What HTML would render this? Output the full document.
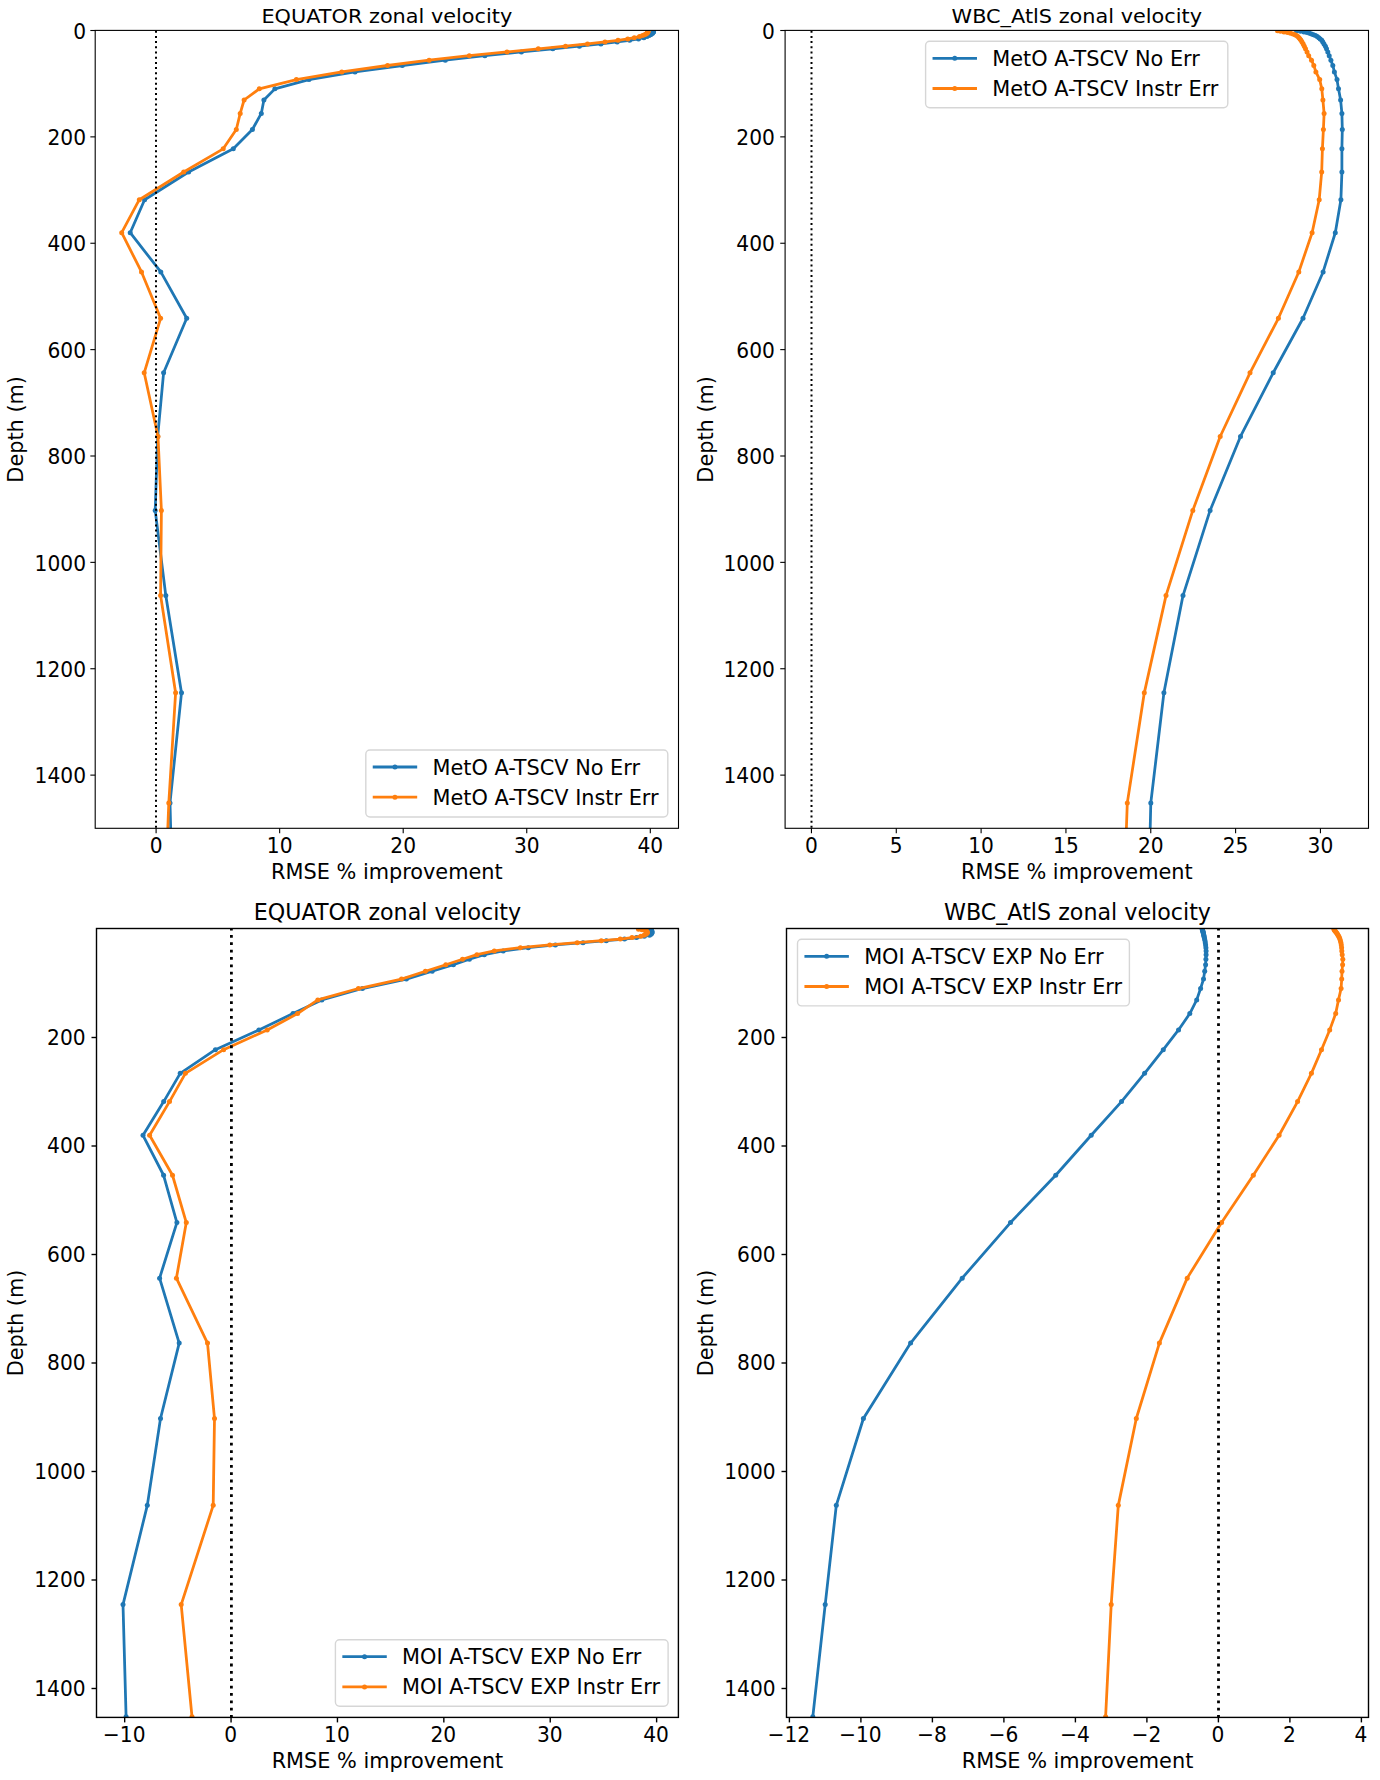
<!DOCTYPE html>
<html><head><meta charset="utf-8"><title>RMSE % improvement: zonal velocity</title>
<style>
html,body{margin:0;padding:0;background:#fff;}
svg{display:block;}
text{font-family:"DejaVu Sans","Liberation Sans",sans-serif;fill:#000;}
.tk{font-size:20.20px;}
.lb{font-size:20.83px;}
</style></head><body>
<svg width="1380" height="1780" viewBox="0 0 1380 1780">
<rect x="0" y="0" width="1380" height="1780" fill="#fff"/>
<defs>
<clipPath id="c0"><rect x="95.20" y="30.40" width="583.30" height="797.90"/></clipPath>
<clipPath id="c1"><rect x="785.10" y="30.40" width="583.40" height="797.90"/></clipPath>
<clipPath id="c2"><rect x="96.50" y="928.50" width="581.90" height="788.90"/></clipPath>
<clipPath id="c3"><rect x="786.50" y="928.50" width="582.00" height="788.90"/></clipPath>
</defs>
<g>
<g clip-path="url(#c0)">
<polyline points="653.50,30.76 653.50,31.32 653.50,31.91 653.00,32.53 652.50,33.20 651.50,33.93 650.50,34.72 649.00,35.59 647.00,36.57 643.90,37.66 638.50,38.91 629.60,40.34 617.20,41.99 600.90,43.91 579.40,46.16 552.80,48.81 521.40,51.96 484.90,55.70 445.30,60.16 402.30,65.50 355.00,71.91 309.00,79.61 274.90,88.86 263.90,100.00 261.30,113.39 252.40,129.49 233.30,148.83 188.60,172.00 144.60,199.70 130.20,232.72 160.80,271.94 186.70,318.29 163.60,372.79 157.70,436.49 155.20,510.43 165.80,595.58 181.50,692.83 170.00,802.91 173.30,926.32" fill="none" stroke="#1f77b4" stroke-width="2.78" stroke-linejoin="round" stroke-linecap="square"/>
<circle cx="653.50" cy="30.76" r="2.50" fill="#1f77b4"/><circle cx="653.50" cy="31.32" r="2.50" fill="#1f77b4"/><circle cx="653.50" cy="31.91" r="2.50" fill="#1f77b4"/><circle cx="653.00" cy="32.53" r="2.50" fill="#1f77b4"/><circle cx="652.50" cy="33.20" r="2.50" fill="#1f77b4"/><circle cx="651.50" cy="33.93" r="2.50" fill="#1f77b4"/><circle cx="650.50" cy="34.72" r="2.50" fill="#1f77b4"/><circle cx="649.00" cy="35.59" r="2.50" fill="#1f77b4"/><circle cx="647.00" cy="36.57" r="2.50" fill="#1f77b4"/><circle cx="643.90" cy="37.66" r="2.50" fill="#1f77b4"/><circle cx="638.50" cy="38.91" r="2.50" fill="#1f77b4"/><circle cx="629.60" cy="40.34" r="2.50" fill="#1f77b4"/><circle cx="617.20" cy="41.99" r="2.50" fill="#1f77b4"/><circle cx="600.90" cy="43.91" r="2.50" fill="#1f77b4"/><circle cx="579.40" cy="46.16" r="2.50" fill="#1f77b4"/><circle cx="552.80" cy="48.81" r="2.50" fill="#1f77b4"/><circle cx="521.40" cy="51.96" r="2.50" fill="#1f77b4"/><circle cx="484.90" cy="55.70" r="2.50" fill="#1f77b4"/><circle cx="445.30" cy="60.16" r="2.50" fill="#1f77b4"/><circle cx="402.30" cy="65.50" r="2.50" fill="#1f77b4"/><circle cx="355.00" cy="71.91" r="2.50" fill="#1f77b4"/><circle cx="309.00" cy="79.61" r="2.50" fill="#1f77b4"/><circle cx="274.90" cy="88.86" r="2.50" fill="#1f77b4"/><circle cx="263.90" cy="100.00" r="2.50" fill="#1f77b4"/><circle cx="261.30" cy="113.39" r="2.50" fill="#1f77b4"/><circle cx="252.40" cy="129.49" r="2.50" fill="#1f77b4"/><circle cx="233.30" cy="148.83" r="2.50" fill="#1f77b4"/><circle cx="188.60" cy="172.00" r="2.50" fill="#1f77b4"/><circle cx="144.60" cy="199.70" r="2.50" fill="#1f77b4"/><circle cx="130.20" cy="232.72" r="2.50" fill="#1f77b4"/><circle cx="160.80" cy="271.94" r="2.50" fill="#1f77b4"/><circle cx="186.70" cy="318.29" r="2.50" fill="#1f77b4"/><circle cx="163.60" cy="372.79" r="2.50" fill="#1f77b4"/><circle cx="157.70" cy="436.49" r="2.50" fill="#1f77b4"/><circle cx="155.20" cy="510.43" r="2.50" fill="#1f77b4"/><circle cx="165.80" cy="595.58" r="2.50" fill="#1f77b4"/><circle cx="181.50" cy="692.83" r="2.50" fill="#1f77b4"/><circle cx="170.00" cy="802.91" r="2.50" fill="#1f77b4"/><circle cx="173.30" cy="926.32" r="2.50" fill="#1f77b4"/>
<polyline points="648.00,30.76 648.00,31.32 648.00,31.91 647.50,32.53 647.00,33.20 646.00,33.93 644.50,34.72 642.50,35.59 639.50,36.57 634.30,37.66 627.80,38.91 618.00,40.34 605.00,41.99 587.50,43.91 565.50,46.16 538.30,48.81 507.00,51.96 469.30,55.70 429.10,60.16 387.50,65.50 341.80,71.91 296.40,79.61 259.30,88.86 244.10,100.00 240.20,113.39 236.30,129.49 223.20,148.83 183.70,172.00 139.30,199.70 121.70,232.72 141.50,271.94 160.60,318.29 144.20,372.79 158.00,436.49 161.40,510.43 160.60,595.58 175.60,692.83 168.80,802.91 164.00,926.32" fill="none" stroke="#ff7f0e" stroke-width="2.78" stroke-linejoin="round" stroke-linecap="square"/>
<circle cx="648.00" cy="30.76" r="2.50" fill="#ff7f0e"/><circle cx="648.00" cy="31.32" r="2.50" fill="#ff7f0e"/><circle cx="648.00" cy="31.91" r="2.50" fill="#ff7f0e"/><circle cx="647.50" cy="32.53" r="2.50" fill="#ff7f0e"/><circle cx="647.00" cy="33.20" r="2.50" fill="#ff7f0e"/><circle cx="646.00" cy="33.93" r="2.50" fill="#ff7f0e"/><circle cx="644.50" cy="34.72" r="2.50" fill="#ff7f0e"/><circle cx="642.50" cy="35.59" r="2.50" fill="#ff7f0e"/><circle cx="639.50" cy="36.57" r="2.50" fill="#ff7f0e"/><circle cx="634.30" cy="37.66" r="2.50" fill="#ff7f0e"/><circle cx="627.80" cy="38.91" r="2.50" fill="#ff7f0e"/><circle cx="618.00" cy="40.34" r="2.50" fill="#ff7f0e"/><circle cx="605.00" cy="41.99" r="2.50" fill="#ff7f0e"/><circle cx="587.50" cy="43.91" r="2.50" fill="#ff7f0e"/><circle cx="565.50" cy="46.16" r="2.50" fill="#ff7f0e"/><circle cx="538.30" cy="48.81" r="2.50" fill="#ff7f0e"/><circle cx="507.00" cy="51.96" r="2.50" fill="#ff7f0e"/><circle cx="469.30" cy="55.70" r="2.50" fill="#ff7f0e"/><circle cx="429.10" cy="60.16" r="2.50" fill="#ff7f0e"/><circle cx="387.50" cy="65.50" r="2.50" fill="#ff7f0e"/><circle cx="341.80" cy="71.91" r="2.50" fill="#ff7f0e"/><circle cx="296.40" cy="79.61" r="2.50" fill="#ff7f0e"/><circle cx="259.30" cy="88.86" r="2.50" fill="#ff7f0e"/><circle cx="244.10" cy="100.00" r="2.50" fill="#ff7f0e"/><circle cx="240.20" cy="113.39" r="2.50" fill="#ff7f0e"/><circle cx="236.30" cy="129.49" r="2.50" fill="#ff7f0e"/><circle cx="223.20" cy="148.83" r="2.50" fill="#ff7f0e"/><circle cx="183.70" cy="172.00" r="2.50" fill="#ff7f0e"/><circle cx="139.30" cy="199.70" r="2.50" fill="#ff7f0e"/><circle cx="121.70" cy="232.72" r="2.50" fill="#ff7f0e"/><circle cx="141.50" cy="271.94" r="2.50" fill="#ff7f0e"/><circle cx="160.60" cy="318.29" r="2.50" fill="#ff7f0e"/><circle cx="144.20" cy="372.79" r="2.50" fill="#ff7f0e"/><circle cx="158.00" cy="436.49" r="2.50" fill="#ff7f0e"/><circle cx="161.40" cy="510.43" r="2.50" fill="#ff7f0e"/><circle cx="160.60" cy="595.58" r="2.50" fill="#ff7f0e"/><circle cx="175.60" cy="692.83" r="2.50" fill="#ff7f0e"/><circle cx="168.80" cy="802.91" r="2.50" fill="#ff7f0e"/><circle cx="164.00" cy="926.32" r="2.50" fill="#ff7f0e"/>
<line x1="156.00" y1="30.70" x2="156.00" y2="833.30" stroke="#000" stroke-width="2.00" stroke-dasharray="2 3.197"/>
</g>
<rect x="95.20" y="30.40" width="583.30" height="797.90" fill="none" stroke="#000" stroke-width="1.10" stroke-linejoin="miter"/>
<line x1="156.10" y1="828.30" x2="156.10" y2="833.16" stroke="#000" stroke-width="1.10"/><text class="tk" transform="translate(156.10 852.80) scale(1 1.050)" text-anchor="middle">0</text>
<line x1="279.65" y1="828.30" x2="279.65" y2="833.16" stroke="#000" stroke-width="1.10"/><text class="tk" transform="translate(279.65 852.80) scale(1 1.050)" text-anchor="middle">10</text>
<line x1="403.20" y1="828.30" x2="403.20" y2="833.16" stroke="#000" stroke-width="1.10"/><text class="tk" transform="translate(403.20 852.80) scale(1 1.050)" text-anchor="middle">20</text>
<line x1="526.75" y1="828.30" x2="526.75" y2="833.16" stroke="#000" stroke-width="1.10"/><text class="tk" transform="translate(526.75 852.80) scale(1 1.050)" text-anchor="middle">30</text>
<line x1="650.30" y1="828.30" x2="650.30" y2="833.16" stroke="#000" stroke-width="1.10"/><text class="tk" transform="translate(650.30 852.80) scale(1 1.050)" text-anchor="middle">40</text>
<line x1="90.34" y1="30.50" x2="95.20" y2="30.50" stroke="#000" stroke-width="1.10"/><text class="tk" transform="translate(86.00 38.70) scale(1 1.050)" text-anchor="end">0</text>
<line x1="90.34" y1="136.87" x2="95.20" y2="136.87" stroke="#000" stroke-width="1.10"/><text class="tk" transform="translate(86.00 145.07) scale(1 1.050)" text-anchor="end">200</text>
<line x1="90.34" y1="243.25" x2="95.20" y2="243.25" stroke="#000" stroke-width="1.10"/><text class="tk" transform="translate(86.00 251.45) scale(1 1.050)" text-anchor="end">400</text>
<line x1="90.34" y1="349.62" x2="95.20" y2="349.62" stroke="#000" stroke-width="1.10"/><text class="tk" transform="translate(86.00 357.82) scale(1 1.050)" text-anchor="end">600</text>
<line x1="90.34" y1="456.00" x2="95.20" y2="456.00" stroke="#000" stroke-width="1.10"/><text class="tk" transform="translate(86.00 464.20) scale(1 1.050)" text-anchor="end">800</text>
<line x1="90.34" y1="562.37" x2="95.20" y2="562.37" stroke="#000" stroke-width="1.10"/><text class="tk" transform="translate(86.00 570.57) scale(1 1.050)" text-anchor="end">1000</text>
<line x1="90.34" y1="668.74" x2="95.20" y2="668.74" stroke="#000" stroke-width="1.10"/><text class="tk" transform="translate(86.00 676.94) scale(1 1.050)" text-anchor="end">1200</text>
<line x1="90.34" y1="775.12" x2="95.20" y2="775.12" stroke="#000" stroke-width="1.10"/><text class="tk" transform="translate(86.00 783.32) scale(1 1.050)" text-anchor="end">1400</text>
<text class="lb" transform="translate(386.85 22.80) scale(1 0.970)" text-anchor="middle" style="font-size:20.83px">EQUATOR zonal velocity</text>
<text class="lb" transform="translate(386.85 878.50) scale(1 1.000)" text-anchor="middle">RMSE % improvement</text>
<text class="lb" transform="translate(22.90 429.35) rotate(-90) scale(1 1.000)" text-anchor="middle">Depth (m)</text>
<rect x="365.80" y="750.00" width="302.00" height="67.00" rx="4.17" ry="4.17" fill="#fff" fill-opacity="0.8" stroke="#cccccc" stroke-opacity="0.8" stroke-width="1.39"/>
<line x1="374.13" y1="767.00" x2="415.79" y2="767.00" stroke="#1f77b4" stroke-width="2.78" stroke-linecap="square"/><circle cx="394.96" cy="767.00" r="2.50" fill="#1f77b4"/><text class="lb" transform="translate(432.45 774.70) scale(1 1.000)">MetO A-TSCV No Err</text>
<line x1="374.13" y1="797.20" x2="415.79" y2="797.20" stroke="#ff7f0e" stroke-width="2.78" stroke-linecap="square"/><circle cx="394.96" cy="797.20" r="2.50" fill="#ff7f0e"/><text class="lb" transform="translate(432.45 804.60) scale(1 1.000)">MetO A-TSCV Instr Err</text>
</g>
<g>
<g clip-path="url(#c1)">
<polyline points="1296.50,30.76 1300.50,31.32 1304.00,31.91 1307.00,32.53 1309.50,33.20 1311.50,33.93 1313.50,34.72 1315.50,35.59 1317.20,36.57 1318.80,37.66 1320.20,38.91 1321.80,40.34 1322.80,41.99 1324.00,43.91 1325.40,46.16 1326.50,48.81 1327.80,51.96 1329.20,55.70 1330.90,60.16 1332.80,65.50 1334.40,71.91 1337.00,79.61 1338.50,88.86 1340.60,100.00 1341.90,113.39 1342.30,129.49 1341.90,148.83 1341.90,172.00 1340.90,199.70 1335.30,232.72 1323.10,271.94 1303.00,318.29 1273.20,372.79 1240.50,436.49 1210.10,510.43 1183.00,595.58 1163.90,692.83 1150.80,802.91 1147.90,926.32" fill="none" stroke="#1f77b4" stroke-width="2.78" stroke-linejoin="round" stroke-linecap="square"/>
<circle cx="1296.50" cy="30.76" r="2.50" fill="#1f77b4"/><circle cx="1300.50" cy="31.32" r="2.50" fill="#1f77b4"/><circle cx="1304.00" cy="31.91" r="2.50" fill="#1f77b4"/><circle cx="1307.00" cy="32.53" r="2.50" fill="#1f77b4"/><circle cx="1309.50" cy="33.20" r="2.50" fill="#1f77b4"/><circle cx="1311.50" cy="33.93" r="2.50" fill="#1f77b4"/><circle cx="1313.50" cy="34.72" r="2.50" fill="#1f77b4"/><circle cx="1315.50" cy="35.59" r="2.50" fill="#1f77b4"/><circle cx="1317.20" cy="36.57" r="2.50" fill="#1f77b4"/><circle cx="1318.80" cy="37.66" r="2.50" fill="#1f77b4"/><circle cx="1320.20" cy="38.91" r="2.50" fill="#1f77b4"/><circle cx="1321.80" cy="40.34" r="2.50" fill="#1f77b4"/><circle cx="1322.80" cy="41.99" r="2.50" fill="#1f77b4"/><circle cx="1324.00" cy="43.91" r="2.50" fill="#1f77b4"/><circle cx="1325.40" cy="46.16" r="2.50" fill="#1f77b4"/><circle cx="1326.50" cy="48.81" r="2.50" fill="#1f77b4"/><circle cx="1327.80" cy="51.96" r="2.50" fill="#1f77b4"/><circle cx="1329.20" cy="55.70" r="2.50" fill="#1f77b4"/><circle cx="1330.90" cy="60.16" r="2.50" fill="#1f77b4"/><circle cx="1332.80" cy="65.50" r="2.50" fill="#1f77b4"/><circle cx="1334.40" cy="71.91" r="2.50" fill="#1f77b4"/><circle cx="1337.00" cy="79.61" r="2.50" fill="#1f77b4"/><circle cx="1338.50" cy="88.86" r="2.50" fill="#1f77b4"/><circle cx="1340.60" cy="100.00" r="2.50" fill="#1f77b4"/><circle cx="1341.90" cy="113.39" r="2.50" fill="#1f77b4"/><circle cx="1342.30" cy="129.49" r="2.50" fill="#1f77b4"/><circle cx="1341.90" cy="148.83" r="2.50" fill="#1f77b4"/><circle cx="1341.90" cy="172.00" r="2.50" fill="#1f77b4"/><circle cx="1340.90" cy="199.70" r="2.50" fill="#1f77b4"/><circle cx="1335.30" cy="232.72" r="2.50" fill="#1f77b4"/><circle cx="1323.10" cy="271.94" r="2.50" fill="#1f77b4"/><circle cx="1303.00" cy="318.29" r="2.50" fill="#1f77b4"/><circle cx="1273.20" cy="372.79" r="2.50" fill="#1f77b4"/><circle cx="1240.50" cy="436.49" r="2.50" fill="#1f77b4"/><circle cx="1210.10" cy="510.43" r="2.50" fill="#1f77b4"/><circle cx="1183.00" cy="595.58" r="2.50" fill="#1f77b4"/><circle cx="1163.90" cy="692.83" r="2.50" fill="#1f77b4"/><circle cx="1150.80" cy="802.91" r="2.50" fill="#1f77b4"/><circle cx="1147.90" cy="926.32" r="2.50" fill="#1f77b4"/>
<polyline points="1277.50,30.76 1280.50,31.32 1284.00,31.91 1287.50,32.53 1290.50,33.20 1293.00,33.93 1295.00,34.72 1296.50,35.59 1297.80,36.57 1299.00,37.66 1300.00,38.91 1301.00,40.34 1302.00,41.99 1303.20,43.91 1304.30,46.16 1305.50,48.81 1307.00,51.96 1308.70,55.70 1311.50,60.16 1313.80,65.50 1315.90,71.91 1319.70,79.61 1321.80,88.86 1322.90,100.00 1324.10,113.39 1323.40,129.49 1322.40,148.83 1321.70,172.00 1319.20,199.70 1312.10,232.72 1298.80,271.94 1278.40,318.29 1250.00,372.79 1220.20,436.49 1192.80,510.43 1166.00,595.58 1144.30,692.83 1127.30,802.91 1122.90,926.32" fill="none" stroke="#ff7f0e" stroke-width="2.78" stroke-linejoin="round" stroke-linecap="square"/>
<circle cx="1277.50" cy="30.76" r="2.50" fill="#ff7f0e"/><circle cx="1280.50" cy="31.32" r="2.50" fill="#ff7f0e"/><circle cx="1284.00" cy="31.91" r="2.50" fill="#ff7f0e"/><circle cx="1287.50" cy="32.53" r="2.50" fill="#ff7f0e"/><circle cx="1290.50" cy="33.20" r="2.50" fill="#ff7f0e"/><circle cx="1293.00" cy="33.93" r="2.50" fill="#ff7f0e"/><circle cx="1295.00" cy="34.72" r="2.50" fill="#ff7f0e"/><circle cx="1296.50" cy="35.59" r="2.50" fill="#ff7f0e"/><circle cx="1297.80" cy="36.57" r="2.50" fill="#ff7f0e"/><circle cx="1299.00" cy="37.66" r="2.50" fill="#ff7f0e"/><circle cx="1300.00" cy="38.91" r="2.50" fill="#ff7f0e"/><circle cx="1301.00" cy="40.34" r="2.50" fill="#ff7f0e"/><circle cx="1302.00" cy="41.99" r="2.50" fill="#ff7f0e"/><circle cx="1303.20" cy="43.91" r="2.50" fill="#ff7f0e"/><circle cx="1304.30" cy="46.16" r="2.50" fill="#ff7f0e"/><circle cx="1305.50" cy="48.81" r="2.50" fill="#ff7f0e"/><circle cx="1307.00" cy="51.96" r="2.50" fill="#ff7f0e"/><circle cx="1308.70" cy="55.70" r="2.50" fill="#ff7f0e"/><circle cx="1311.50" cy="60.16" r="2.50" fill="#ff7f0e"/><circle cx="1313.80" cy="65.50" r="2.50" fill="#ff7f0e"/><circle cx="1315.90" cy="71.91" r="2.50" fill="#ff7f0e"/><circle cx="1319.70" cy="79.61" r="2.50" fill="#ff7f0e"/><circle cx="1321.80" cy="88.86" r="2.50" fill="#ff7f0e"/><circle cx="1322.90" cy="100.00" r="2.50" fill="#ff7f0e"/><circle cx="1324.10" cy="113.39" r="2.50" fill="#ff7f0e"/><circle cx="1323.40" cy="129.49" r="2.50" fill="#ff7f0e"/><circle cx="1322.40" cy="148.83" r="2.50" fill="#ff7f0e"/><circle cx="1321.70" cy="172.00" r="2.50" fill="#ff7f0e"/><circle cx="1319.20" cy="199.70" r="2.50" fill="#ff7f0e"/><circle cx="1312.10" cy="232.72" r="2.50" fill="#ff7f0e"/><circle cx="1298.80" cy="271.94" r="2.50" fill="#ff7f0e"/><circle cx="1278.40" cy="318.29" r="2.50" fill="#ff7f0e"/><circle cx="1250.00" cy="372.79" r="2.50" fill="#ff7f0e"/><circle cx="1220.20" cy="436.49" r="2.50" fill="#ff7f0e"/><circle cx="1192.80" cy="510.43" r="2.50" fill="#ff7f0e"/><circle cx="1166.00" cy="595.58" r="2.50" fill="#ff7f0e"/><circle cx="1144.30" cy="692.83" r="2.50" fill="#ff7f0e"/><circle cx="1127.30" cy="802.91" r="2.50" fill="#ff7f0e"/><circle cx="1122.90" cy="926.32" r="2.50" fill="#ff7f0e"/>
<line x1="811.50" y1="30.70" x2="811.50" y2="833.30" stroke="#000" stroke-width="2.00" stroke-dasharray="2 3.197"/>
</g>
<rect x="785.10" y="30.40" width="583.40" height="797.90" fill="none" stroke="#000" stroke-width="1.10" stroke-linejoin="miter"/>
<line x1="811.45" y1="828.30" x2="811.45" y2="833.16" stroke="#000" stroke-width="1.10"/><text class="tk" transform="translate(811.45 852.80) scale(1 1.050)" text-anchor="middle">0</text>
<line x1="896.28" y1="828.30" x2="896.28" y2="833.16" stroke="#000" stroke-width="1.10"/><text class="tk" transform="translate(896.28 852.80) scale(1 1.050)" text-anchor="middle">5</text>
<line x1="981.11" y1="828.30" x2="981.11" y2="833.16" stroke="#000" stroke-width="1.10"/><text class="tk" transform="translate(981.11 852.80) scale(1 1.050)" text-anchor="middle">10</text>
<line x1="1065.94" y1="828.30" x2="1065.94" y2="833.16" stroke="#000" stroke-width="1.10"/><text class="tk" transform="translate(1065.94 852.80) scale(1 1.050)" text-anchor="middle">15</text>
<line x1="1150.77" y1="828.30" x2="1150.77" y2="833.16" stroke="#000" stroke-width="1.10"/><text class="tk" transform="translate(1150.77 852.80) scale(1 1.050)" text-anchor="middle">20</text>
<line x1="1235.60" y1="828.30" x2="1235.60" y2="833.16" stroke="#000" stroke-width="1.10"/><text class="tk" transform="translate(1235.60 852.80) scale(1 1.050)" text-anchor="middle">25</text>
<line x1="1320.43" y1="828.30" x2="1320.43" y2="833.16" stroke="#000" stroke-width="1.10"/><text class="tk" transform="translate(1320.43 852.80) scale(1 1.050)" text-anchor="middle">30</text>
<line x1="780.24" y1="30.50" x2="785.10" y2="30.50" stroke="#000" stroke-width="1.10"/><text class="tk" transform="translate(774.90 38.70) scale(1 1.050)" text-anchor="end">0</text>
<line x1="780.24" y1="136.87" x2="785.10" y2="136.87" stroke="#000" stroke-width="1.10"/><text class="tk" transform="translate(774.90 145.07) scale(1 1.050)" text-anchor="end">200</text>
<line x1="780.24" y1="243.25" x2="785.10" y2="243.25" stroke="#000" stroke-width="1.10"/><text class="tk" transform="translate(774.90 251.45) scale(1 1.050)" text-anchor="end">400</text>
<line x1="780.24" y1="349.62" x2="785.10" y2="349.62" stroke="#000" stroke-width="1.10"/><text class="tk" transform="translate(774.90 357.82) scale(1 1.050)" text-anchor="end">600</text>
<line x1="780.24" y1="456.00" x2="785.10" y2="456.00" stroke="#000" stroke-width="1.10"/><text class="tk" transform="translate(774.90 464.20) scale(1 1.050)" text-anchor="end">800</text>
<line x1="780.24" y1="562.37" x2="785.10" y2="562.37" stroke="#000" stroke-width="1.10"/><text class="tk" transform="translate(774.90 570.57) scale(1 1.050)" text-anchor="end">1000</text>
<line x1="780.24" y1="668.74" x2="785.10" y2="668.74" stroke="#000" stroke-width="1.10"/><text class="tk" transform="translate(774.90 676.94) scale(1 1.050)" text-anchor="end">1200</text>
<line x1="780.24" y1="775.12" x2="785.10" y2="775.12" stroke="#000" stroke-width="1.10"/><text class="tk" transform="translate(774.90 783.32) scale(1 1.050)" text-anchor="end">1400</text>
<text class="lb" transform="translate(1076.80 22.80) scale(1 0.970)" text-anchor="middle" style="font-size:20.83px">WBC_AtlS zonal velocity</text>
<text class="lb" transform="translate(1076.80 878.50) scale(1 1.000)" text-anchor="middle">RMSE % improvement</text>
<text class="lb" transform="translate(712.90 429.35) rotate(-90) scale(1 1.000)" text-anchor="middle">Depth (m)</text>
<rect x="925.60" y="41.30" width="302.20" height="66.40" rx="4.17" ry="4.17" fill="#fff" fill-opacity="0.8" stroke="#cccccc" stroke-opacity="0.8" stroke-width="1.39"/>
<line x1="933.93" y1="58.30" x2="975.59" y2="58.30" stroke="#1f77b4" stroke-width="2.78" stroke-linecap="square"/><circle cx="954.76" cy="58.30" r="2.50" fill="#1f77b4"/><text class="lb" transform="translate(992.25 66.00) scale(1 1.000)">MetO A-TSCV No Err</text>
<line x1="933.93" y1="88.50" x2="975.59" y2="88.50" stroke="#ff7f0e" stroke-width="2.78" stroke-linecap="square"/><circle cx="954.76" cy="88.50" r="2.50" fill="#ff7f0e"/><text class="lb" transform="translate(992.25 95.90) scale(1 1.000)">MetO A-TSCV Instr Err</text>
</g>
<g>
<g clip-path="url(#c2)">
<polyline points="650.00,929.27 651.00,929.84 651.50,930.44 651.80,931.07 652.00,931.75 652.00,932.49 651.80,933.30 651.00,934.19 649.50,935.19 644.30,936.31 636.50,937.58 624.50,939.03 606.30,940.72 583.00,942.68 555.40,944.97 528.30,947.68 503.20,950.89 484.30,954.70 469.40,959.25 453.40,964.70 432.20,971.24 406.40,979.09 362.40,988.53 321.80,999.89 293.00,1013.55 258.90,1029.97 215.40,1049.69 180.20,1073.33 163.70,1101.58 143.00,1135.27 163.60,1175.26 176.90,1222.54 159.60,1278.13 179.20,1343.11 160.50,1418.52 147.30,1505.37 123.00,1604.57 126.10,1716.85" fill="none" stroke="#1f77b4" stroke-width="2.78" stroke-linejoin="round" stroke-linecap="square"/>
<circle cx="650.00" cy="929.27" r="2.50" fill="#1f77b4"/><circle cx="651.00" cy="929.84" r="2.50" fill="#1f77b4"/><circle cx="651.50" cy="930.44" r="2.50" fill="#1f77b4"/><circle cx="651.80" cy="931.07" r="2.50" fill="#1f77b4"/><circle cx="652.00" cy="931.75" r="2.50" fill="#1f77b4"/><circle cx="652.00" cy="932.49" r="2.50" fill="#1f77b4"/><circle cx="651.80" cy="933.30" r="2.50" fill="#1f77b4"/><circle cx="651.00" cy="934.19" r="2.50" fill="#1f77b4"/><circle cx="649.50" cy="935.19" r="2.50" fill="#1f77b4"/><circle cx="644.30" cy="936.31" r="2.50" fill="#1f77b4"/><circle cx="636.50" cy="937.58" r="2.50" fill="#1f77b4"/><circle cx="624.50" cy="939.03" r="2.50" fill="#1f77b4"/><circle cx="606.30" cy="940.72" r="2.50" fill="#1f77b4"/><circle cx="583.00" cy="942.68" r="2.50" fill="#1f77b4"/><circle cx="555.40" cy="944.97" r="2.50" fill="#1f77b4"/><circle cx="528.30" cy="947.68" r="2.50" fill="#1f77b4"/><circle cx="503.20" cy="950.89" r="2.50" fill="#1f77b4"/><circle cx="484.30" cy="954.70" r="2.50" fill="#1f77b4"/><circle cx="469.40" cy="959.25" r="2.50" fill="#1f77b4"/><circle cx="453.40" cy="964.70" r="2.50" fill="#1f77b4"/><circle cx="432.20" cy="971.24" r="2.50" fill="#1f77b4"/><circle cx="406.40" cy="979.09" r="2.50" fill="#1f77b4"/><circle cx="362.40" cy="988.53" r="2.50" fill="#1f77b4"/><circle cx="321.80" cy="999.89" r="2.50" fill="#1f77b4"/><circle cx="293.00" cy="1013.55" r="2.50" fill="#1f77b4"/><circle cx="258.90" cy="1029.97" r="2.50" fill="#1f77b4"/><circle cx="215.40" cy="1049.69" r="2.50" fill="#1f77b4"/><circle cx="180.20" cy="1073.33" r="2.50" fill="#1f77b4"/><circle cx="163.70" cy="1101.58" r="2.50" fill="#1f77b4"/><circle cx="143.00" cy="1135.27" r="2.50" fill="#1f77b4"/><circle cx="163.60" cy="1175.26" r="2.50" fill="#1f77b4"/><circle cx="176.90" cy="1222.54" r="2.50" fill="#1f77b4"/><circle cx="159.60" cy="1278.13" r="2.50" fill="#1f77b4"/><circle cx="179.20" cy="1343.11" r="2.50" fill="#1f77b4"/><circle cx="160.50" cy="1418.52" r="2.50" fill="#1f77b4"/><circle cx="147.30" cy="1505.37" r="2.50" fill="#1f77b4"/><circle cx="123.00" cy="1604.57" r="2.50" fill="#1f77b4"/><circle cx="126.10" cy="1716.85" r="2.50" fill="#1f77b4"/>
<polyline points="638.50,929.27 642.00,929.84 645.00,930.44 646.50,931.07 647.20,931.75 647.40,932.49 647.00,933.30 646.00,934.19 644.00,935.19 640.80,936.31 632.00,937.58 620.20,939.03 601.30,940.72 577.20,942.68 549.80,944.97 520.40,947.68 494.30,950.89 476.90,954.70 462.50,959.25 445.80,964.70 425.40,971.24 401.50,979.09 358.40,988.53 317.80,999.89 297.60,1013.55 267.20,1029.97 223.60,1049.69 185.40,1073.33 169.50,1101.58 149.60,1135.27 172.50,1175.26 186.30,1222.54 176.40,1278.13 207.50,1343.11 214.50,1418.52 213.20,1505.37 181.20,1604.57 192.00,1716.85" fill="none" stroke="#ff7f0e" stroke-width="2.78" stroke-linejoin="round" stroke-linecap="square"/>
<circle cx="638.50" cy="929.27" r="2.50" fill="#ff7f0e"/><circle cx="642.00" cy="929.84" r="2.50" fill="#ff7f0e"/><circle cx="645.00" cy="930.44" r="2.50" fill="#ff7f0e"/><circle cx="646.50" cy="931.07" r="2.50" fill="#ff7f0e"/><circle cx="647.20" cy="931.75" r="2.50" fill="#ff7f0e"/><circle cx="647.40" cy="932.49" r="2.50" fill="#ff7f0e"/><circle cx="647.00" cy="933.30" r="2.50" fill="#ff7f0e"/><circle cx="646.00" cy="934.19" r="2.50" fill="#ff7f0e"/><circle cx="644.00" cy="935.19" r="2.50" fill="#ff7f0e"/><circle cx="640.80" cy="936.31" r="2.50" fill="#ff7f0e"/><circle cx="632.00" cy="937.58" r="2.50" fill="#ff7f0e"/><circle cx="620.20" cy="939.03" r="2.50" fill="#ff7f0e"/><circle cx="601.30" cy="940.72" r="2.50" fill="#ff7f0e"/><circle cx="577.20" cy="942.68" r="2.50" fill="#ff7f0e"/><circle cx="549.80" cy="944.97" r="2.50" fill="#ff7f0e"/><circle cx="520.40" cy="947.68" r="2.50" fill="#ff7f0e"/><circle cx="494.30" cy="950.89" r="2.50" fill="#ff7f0e"/><circle cx="476.90" cy="954.70" r="2.50" fill="#ff7f0e"/><circle cx="462.50" cy="959.25" r="2.50" fill="#ff7f0e"/><circle cx="445.80" cy="964.70" r="2.50" fill="#ff7f0e"/><circle cx="425.40" cy="971.24" r="2.50" fill="#ff7f0e"/><circle cx="401.50" cy="979.09" r="2.50" fill="#ff7f0e"/><circle cx="358.40" cy="988.53" r="2.50" fill="#ff7f0e"/><circle cx="317.80" cy="999.89" r="2.50" fill="#ff7f0e"/><circle cx="297.60" cy="1013.55" r="2.50" fill="#ff7f0e"/><circle cx="267.20" cy="1029.97" r="2.50" fill="#ff7f0e"/><circle cx="223.60" cy="1049.69" r="2.50" fill="#ff7f0e"/><circle cx="185.40" cy="1073.33" r="2.50" fill="#ff7f0e"/><circle cx="169.50" cy="1101.58" r="2.50" fill="#ff7f0e"/><circle cx="149.60" cy="1135.27" r="2.50" fill="#ff7f0e"/><circle cx="172.50" cy="1175.26" r="2.50" fill="#ff7f0e"/><circle cx="186.30" cy="1222.54" r="2.50" fill="#ff7f0e"/><circle cx="176.40" cy="1278.13" r="2.50" fill="#ff7f0e"/><circle cx="207.50" cy="1343.11" r="2.50" fill="#ff7f0e"/><circle cx="214.50" cy="1418.52" r="2.50" fill="#ff7f0e"/><circle cx="213.20" cy="1505.37" r="2.50" fill="#ff7f0e"/><circle cx="181.20" cy="1604.57" r="2.50" fill="#ff7f0e"/><circle cx="192.00" cy="1716.85" r="2.50" fill="#ff7f0e"/>
<line x1="231.40" y1="927.60" x2="231.40" y2="1722.40" stroke="#000" stroke-width="2.80" stroke-dasharray="2.78 4.58"/>
</g>
<rect x="96.50" y="928.50" width="581.90" height="788.90" fill="none" stroke="#000" stroke-width="1.40" stroke-linejoin="miter"/>
<line x1="124.67" y1="1717.40" x2="124.67" y2="1722.40" stroke="#000" stroke-width="1.40"/><text class="tk" transform="translate(124.17 1741.90) scale(1 1.080)" text-anchor="middle">−10</text>
<line x1="231.06" y1="1717.40" x2="231.06" y2="1722.40" stroke="#000" stroke-width="1.40"/><text class="tk" transform="translate(230.56 1741.90) scale(1 1.080)" text-anchor="middle">0</text>
<line x1="337.45" y1="1717.40" x2="337.45" y2="1722.40" stroke="#000" stroke-width="1.40"/><text class="tk" transform="translate(336.95 1741.90) scale(1 1.080)" text-anchor="middle">10</text>
<line x1="443.84" y1="1717.40" x2="443.84" y2="1722.40" stroke="#000" stroke-width="1.40"/><text class="tk" transform="translate(443.34 1741.90) scale(1 1.080)" text-anchor="middle">20</text>
<line x1="550.23" y1="1717.40" x2="550.23" y2="1722.40" stroke="#000" stroke-width="1.40"/><text class="tk" transform="translate(549.73 1741.90) scale(1 1.080)" text-anchor="middle">30</text>
<line x1="656.62" y1="1717.40" x2="656.62" y2="1722.40" stroke="#000" stroke-width="1.40"/><text class="tk" transform="translate(656.12 1741.90) scale(1 1.080)" text-anchor="middle">40</text>
<line x1="91.50" y1="1037.50" x2="96.50" y2="1037.50" stroke="#000" stroke-width="1.40"/><text class="tk" transform="translate(85.60 1044.80) scale(1 1.080)" text-anchor="end">200</text>
<line x1="91.50" y1="1146.00" x2="96.50" y2="1146.00" stroke="#000" stroke-width="1.40"/><text class="tk" transform="translate(85.60 1153.30) scale(1 1.080)" text-anchor="end">400</text>
<line x1="91.50" y1="1254.50" x2="96.50" y2="1254.50" stroke="#000" stroke-width="1.40"/><text class="tk" transform="translate(85.60 1261.80) scale(1 1.080)" text-anchor="end">600</text>
<line x1="91.50" y1="1363.00" x2="96.50" y2="1363.00" stroke="#000" stroke-width="1.40"/><text class="tk" transform="translate(85.60 1370.30) scale(1 1.080)" text-anchor="end">800</text>
<line x1="91.50" y1="1471.50" x2="96.50" y2="1471.50" stroke="#000" stroke-width="1.40"/><text class="tk" transform="translate(85.60 1478.80) scale(1 1.080)" text-anchor="end">1000</text>
<line x1="91.50" y1="1580.00" x2="96.50" y2="1580.00" stroke="#000" stroke-width="1.40"/><text class="tk" transform="translate(85.60 1587.30) scale(1 1.080)" text-anchor="end">1200</text>
<line x1="91.50" y1="1688.50" x2="96.50" y2="1688.50" stroke="#000" stroke-width="1.40"/><text class="tk" transform="translate(85.60 1695.80) scale(1 1.080)" text-anchor="end">1400</text>
<text class="lb" transform="translate(387.45 919.60) scale(1 1.000)" text-anchor="middle" style="font-size:22.20px">EQUATOR zonal velocity</text>
<text class="lb" transform="translate(387.45 1767.90) scale(1 1.000)" text-anchor="middle">RMSE % improvement</text>
<text class="lb" transform="translate(22.90 1322.95) rotate(-90) scale(1 1.000)" text-anchor="middle">Depth (m)</text>
<rect x="335.40" y="1639.70" width="332.70" height="66.50" rx="4.17" ry="4.17" fill="#fff" fill-opacity="0.8" stroke="#cccccc" stroke-opacity="0.8" stroke-width="1.39"/>
<line x1="343.73" y1="1656.70" x2="385.39" y2="1656.70" stroke="#1f77b4" stroke-width="2.78" stroke-linecap="square"/><circle cx="364.56" cy="1656.70" r="2.50" fill="#1f77b4"/><text class="lb" transform="translate(402.05 1664.40) scale(1 1.000)">MOI A-TSCV EXP No Err</text>
<line x1="343.73" y1="1686.90" x2="385.39" y2="1686.90" stroke="#ff7f0e" stroke-width="2.78" stroke-linecap="square"/><circle cx="364.56" cy="1686.90" r="2.50" fill="#ff7f0e"/><text class="lb" transform="translate(402.05 1694.30) scale(1 1.000)">MOI A-TSCV EXP Instr Err</text>
</g>
<g>
<g clip-path="url(#c3)">
<polyline points="1202.20,929.27 1202.40,929.84 1202.60,930.44 1202.80,931.07 1203.00,931.75 1203.20,932.49 1203.40,933.30 1203.60,934.19 1203.80,935.19 1204.00,936.31 1204.30,937.58 1204.60,939.03 1205.00,940.72 1205.30,942.68 1205.60,944.97 1205.90,947.68 1206.10,950.89 1206.10,954.70 1205.90,959.25 1205.60,964.70 1204.70,971.24 1203.50,979.09 1200.60,988.53 1196.70,999.89 1189.80,1013.55 1178.50,1029.97 1163.30,1049.69 1144.60,1073.33 1121.50,1101.58 1091.20,1135.27 1055.70,1175.26 1010.50,1222.54 962.20,1278.13 910.60,1343.11 863.40,1418.52 836.30,1505.37 825.20,1604.57 812.80,1716.85" fill="none" stroke="#1f77b4" stroke-width="2.78" stroke-linejoin="round" stroke-linecap="square"/>
<circle cx="1202.20" cy="929.27" r="2.50" fill="#1f77b4"/><circle cx="1202.40" cy="929.84" r="2.50" fill="#1f77b4"/><circle cx="1202.60" cy="930.44" r="2.50" fill="#1f77b4"/><circle cx="1202.80" cy="931.07" r="2.50" fill="#1f77b4"/><circle cx="1203.00" cy="931.75" r="2.50" fill="#1f77b4"/><circle cx="1203.20" cy="932.49" r="2.50" fill="#1f77b4"/><circle cx="1203.40" cy="933.30" r="2.50" fill="#1f77b4"/><circle cx="1203.60" cy="934.19" r="2.50" fill="#1f77b4"/><circle cx="1203.80" cy="935.19" r="2.50" fill="#1f77b4"/><circle cx="1204.00" cy="936.31" r="2.50" fill="#1f77b4"/><circle cx="1204.30" cy="937.58" r="2.50" fill="#1f77b4"/><circle cx="1204.60" cy="939.03" r="2.50" fill="#1f77b4"/><circle cx="1205.00" cy="940.72" r="2.50" fill="#1f77b4"/><circle cx="1205.30" cy="942.68" r="2.50" fill="#1f77b4"/><circle cx="1205.60" cy="944.97" r="2.50" fill="#1f77b4"/><circle cx="1205.90" cy="947.68" r="2.50" fill="#1f77b4"/><circle cx="1206.10" cy="950.89" r="2.50" fill="#1f77b4"/><circle cx="1206.10" cy="954.70" r="2.50" fill="#1f77b4"/><circle cx="1205.90" cy="959.25" r="2.50" fill="#1f77b4"/><circle cx="1205.60" cy="964.70" r="2.50" fill="#1f77b4"/><circle cx="1204.70" cy="971.24" r="2.50" fill="#1f77b4"/><circle cx="1203.50" cy="979.09" r="2.50" fill="#1f77b4"/><circle cx="1200.60" cy="988.53" r="2.50" fill="#1f77b4"/><circle cx="1196.70" cy="999.89" r="2.50" fill="#1f77b4"/><circle cx="1189.80" cy="1013.55" r="2.50" fill="#1f77b4"/><circle cx="1178.50" cy="1029.97" r="2.50" fill="#1f77b4"/><circle cx="1163.30" cy="1049.69" r="2.50" fill="#1f77b4"/><circle cx="1144.60" cy="1073.33" r="2.50" fill="#1f77b4"/><circle cx="1121.50" cy="1101.58" r="2.50" fill="#1f77b4"/><circle cx="1091.20" cy="1135.27" r="2.50" fill="#1f77b4"/><circle cx="1055.70" cy="1175.26" r="2.50" fill="#1f77b4"/><circle cx="1010.50" cy="1222.54" r="2.50" fill="#1f77b4"/><circle cx="962.20" cy="1278.13" r="2.50" fill="#1f77b4"/><circle cx="910.60" cy="1343.11" r="2.50" fill="#1f77b4"/><circle cx="863.40" cy="1418.52" r="2.50" fill="#1f77b4"/><circle cx="836.30" cy="1505.37" r="2.50" fill="#1f77b4"/><circle cx="825.20" cy="1604.57" r="2.50" fill="#1f77b4"/><circle cx="812.80" cy="1716.85" r="2.50" fill="#1f77b4"/>
<polyline points="1333.90,929.27 1334.30,929.84 1334.70,930.44 1335.20,931.07 1335.70,931.75 1336.30,932.49 1336.90,933.30 1337.50,934.19 1338.10,935.19 1338.70,936.31 1339.30,937.58 1339.90,939.03 1340.40,940.72 1340.90,942.68 1341.30,944.97 1341.60,947.68 1341.80,950.89 1342.20,954.70 1342.80,959.25 1342.60,964.70 1342.00,971.24 1341.70,979.09 1341.10,988.53 1338.50,999.89 1335.70,1013.55 1329.70,1029.97 1321.50,1049.69 1311.40,1073.33 1297.60,1101.58 1279.10,1135.27 1253.30,1175.26 1221.60,1222.54 1187.20,1278.13 1159.40,1343.11 1136.30,1418.52 1118.30,1505.37 1111.20,1604.57 1105.60,1716.85" fill="none" stroke="#ff7f0e" stroke-width="2.78" stroke-linejoin="round" stroke-linecap="square"/>
<circle cx="1333.90" cy="929.27" r="2.50" fill="#ff7f0e"/><circle cx="1334.30" cy="929.84" r="2.50" fill="#ff7f0e"/><circle cx="1334.70" cy="930.44" r="2.50" fill="#ff7f0e"/><circle cx="1335.20" cy="931.07" r="2.50" fill="#ff7f0e"/><circle cx="1335.70" cy="931.75" r="2.50" fill="#ff7f0e"/><circle cx="1336.30" cy="932.49" r="2.50" fill="#ff7f0e"/><circle cx="1336.90" cy="933.30" r="2.50" fill="#ff7f0e"/><circle cx="1337.50" cy="934.19" r="2.50" fill="#ff7f0e"/><circle cx="1338.10" cy="935.19" r="2.50" fill="#ff7f0e"/><circle cx="1338.70" cy="936.31" r="2.50" fill="#ff7f0e"/><circle cx="1339.30" cy="937.58" r="2.50" fill="#ff7f0e"/><circle cx="1339.90" cy="939.03" r="2.50" fill="#ff7f0e"/><circle cx="1340.40" cy="940.72" r="2.50" fill="#ff7f0e"/><circle cx="1340.90" cy="942.68" r="2.50" fill="#ff7f0e"/><circle cx="1341.30" cy="944.97" r="2.50" fill="#ff7f0e"/><circle cx="1341.60" cy="947.68" r="2.50" fill="#ff7f0e"/><circle cx="1341.80" cy="950.89" r="2.50" fill="#ff7f0e"/><circle cx="1342.20" cy="954.70" r="2.50" fill="#ff7f0e"/><circle cx="1342.80" cy="959.25" r="2.50" fill="#ff7f0e"/><circle cx="1342.60" cy="964.70" r="2.50" fill="#ff7f0e"/><circle cx="1342.00" cy="971.24" r="2.50" fill="#ff7f0e"/><circle cx="1341.70" cy="979.09" r="2.50" fill="#ff7f0e"/><circle cx="1341.10" cy="988.53" r="2.50" fill="#ff7f0e"/><circle cx="1338.50" cy="999.89" r="2.50" fill="#ff7f0e"/><circle cx="1335.70" cy="1013.55" r="2.50" fill="#ff7f0e"/><circle cx="1329.70" cy="1029.97" r="2.50" fill="#ff7f0e"/><circle cx="1321.50" cy="1049.69" r="2.50" fill="#ff7f0e"/><circle cx="1311.40" cy="1073.33" r="2.50" fill="#ff7f0e"/><circle cx="1297.60" cy="1101.58" r="2.50" fill="#ff7f0e"/><circle cx="1279.10" cy="1135.27" r="2.50" fill="#ff7f0e"/><circle cx="1253.30" cy="1175.26" r="2.50" fill="#ff7f0e"/><circle cx="1221.60" cy="1222.54" r="2.50" fill="#ff7f0e"/><circle cx="1187.20" cy="1278.13" r="2.50" fill="#ff7f0e"/><circle cx="1159.40" cy="1343.11" r="2.50" fill="#ff7f0e"/><circle cx="1136.30" cy="1418.52" r="2.50" fill="#ff7f0e"/><circle cx="1118.30" cy="1505.37" r="2.50" fill="#ff7f0e"/><circle cx="1111.20" cy="1604.57" r="2.50" fill="#ff7f0e"/><circle cx="1105.60" cy="1716.85" r="2.50" fill="#ff7f0e"/>
<line x1="1218.50" y1="927.60" x2="1218.50" y2="1722.40" stroke="#000" stroke-width="2.80" stroke-dasharray="2.78 4.58"/>
</g>
<rect x="786.50" y="928.50" width="582.00" height="788.90" fill="none" stroke="#000" stroke-width="1.40" stroke-linejoin="miter"/>
<line x1="789.40" y1="1717.40" x2="789.40" y2="1722.40" stroke="#000" stroke-width="1.40"/><text class="tk" transform="translate(788.90 1741.90) scale(1 1.080)" text-anchor="middle">−12</text>
<line x1="860.90" y1="1717.40" x2="860.90" y2="1722.40" stroke="#000" stroke-width="1.40"/><text class="tk" transform="translate(860.40 1741.90) scale(1 1.080)" text-anchor="middle">−10</text>
<line x1="932.40" y1="1717.40" x2="932.40" y2="1722.40" stroke="#000" stroke-width="1.40"/><text class="tk" transform="translate(931.90 1741.90) scale(1 1.080)" text-anchor="middle">−8</text>
<line x1="1003.90" y1="1717.40" x2="1003.90" y2="1722.40" stroke="#000" stroke-width="1.40"/><text class="tk" transform="translate(1003.40 1741.90) scale(1 1.080)" text-anchor="middle">−6</text>
<line x1="1075.40" y1="1717.40" x2="1075.40" y2="1722.40" stroke="#000" stroke-width="1.40"/><text class="tk" transform="translate(1074.90 1741.90) scale(1 1.080)" text-anchor="middle">−4</text>
<line x1="1146.90" y1="1717.40" x2="1146.90" y2="1722.40" stroke="#000" stroke-width="1.40"/><text class="tk" transform="translate(1146.40 1741.90) scale(1 1.080)" text-anchor="middle">−2</text>
<line x1="1218.40" y1="1717.40" x2="1218.40" y2="1722.40" stroke="#000" stroke-width="1.40"/><text class="tk" transform="translate(1217.90 1741.90) scale(1 1.080)" text-anchor="middle">0</text>
<line x1="1289.90" y1="1717.40" x2="1289.90" y2="1722.40" stroke="#000" stroke-width="1.40"/><text class="tk" transform="translate(1289.40 1741.90) scale(1 1.080)" text-anchor="middle">2</text>
<line x1="1361.40" y1="1717.40" x2="1361.40" y2="1722.40" stroke="#000" stroke-width="1.40"/><text class="tk" transform="translate(1360.90 1741.90) scale(1 1.080)" text-anchor="middle">4</text>
<line x1="781.50" y1="1037.50" x2="786.50" y2="1037.50" stroke="#000" stroke-width="1.40"/><text class="tk" transform="translate(775.60 1044.80) scale(1 1.080)" text-anchor="end">200</text>
<line x1="781.50" y1="1146.00" x2="786.50" y2="1146.00" stroke="#000" stroke-width="1.40"/><text class="tk" transform="translate(775.60 1153.30) scale(1 1.080)" text-anchor="end">400</text>
<line x1="781.50" y1="1254.50" x2="786.50" y2="1254.50" stroke="#000" stroke-width="1.40"/><text class="tk" transform="translate(775.60 1261.80) scale(1 1.080)" text-anchor="end">600</text>
<line x1="781.50" y1="1363.00" x2="786.50" y2="1363.00" stroke="#000" stroke-width="1.40"/><text class="tk" transform="translate(775.60 1370.30) scale(1 1.080)" text-anchor="end">800</text>
<line x1="781.50" y1="1471.50" x2="786.50" y2="1471.50" stroke="#000" stroke-width="1.40"/><text class="tk" transform="translate(775.60 1478.80) scale(1 1.080)" text-anchor="end">1000</text>
<line x1="781.50" y1="1580.00" x2="786.50" y2="1580.00" stroke="#000" stroke-width="1.40"/><text class="tk" transform="translate(775.60 1587.30) scale(1 1.080)" text-anchor="end">1200</text>
<line x1="781.50" y1="1688.50" x2="786.50" y2="1688.50" stroke="#000" stroke-width="1.40"/><text class="tk" transform="translate(775.60 1695.80) scale(1 1.080)" text-anchor="end">1400</text>
<text class="lb" transform="translate(1077.50 919.60) scale(1 1.000)" text-anchor="middle" style="font-size:22.20px">WBC_AtlS zonal velocity</text>
<text class="lb" transform="translate(1077.50 1767.90) scale(1 1.000)" text-anchor="middle">RMSE % improvement</text>
<text class="lb" transform="translate(712.90 1322.95) rotate(-90) scale(1 1.000)" text-anchor="middle">Depth (m)</text>
<rect x="797.50" y="939.30" width="331.90" height="66.60" rx="4.17" ry="4.17" fill="#fff" fill-opacity="0.8" stroke="#cccccc" stroke-opacity="0.8" stroke-width="1.39"/>
<line x1="805.83" y1="956.30" x2="847.49" y2="956.30" stroke="#1f77b4" stroke-width="2.78" stroke-linecap="square"/><circle cx="826.66" cy="956.30" r="2.50" fill="#1f77b4"/><text class="lb" transform="translate(864.15 964.00) scale(1 1.000)">MOI A-TSCV EXP No Err</text>
<line x1="805.83" y1="986.50" x2="847.49" y2="986.50" stroke="#ff7f0e" stroke-width="2.78" stroke-linecap="square"/><circle cx="826.66" cy="986.50" r="2.50" fill="#ff7f0e"/><text class="lb" transform="translate(864.15 993.90) scale(1 1.000)">MOI A-TSCV EXP Instr Err</text>
</g>
</svg>
</body></html>
